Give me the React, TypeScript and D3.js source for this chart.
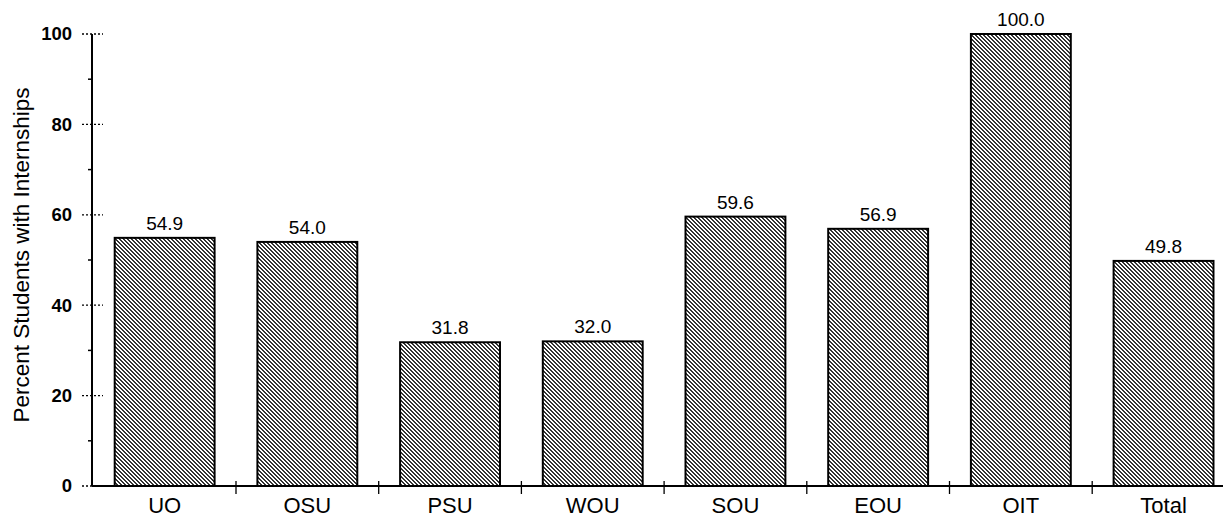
import React from "react";
import * as d3 from "d3";

const categories = ["UO", "OSU", "PSU", "WOU", "SOU", "EOU", "OIT", "Total"];
const values = [54.9, 54.0, 31.8, 32.0, 59.6, 56.9, 100.0, 49.8];
const majorTicks = [0, 20, 40, 60, 80, 100];
const minorTicks = [10, 30, 50, 70, 90];
const yTitle = "Percent Students with Internships";

export default function App() {
  const W = 1223, H = 518;
  const axisX = 92;
  const y = d3.scaleLinear().domain([0, 100]).range([486, 34]);
  const x = d3.scaleBand<string>().domain(categories).range([93.3, 93.3 + 8 * 142.7]).paddingInner(0.3).paddingOuter(0.15);
  const step = x.step();
  const start = 93.3;
  return (
    <svg width={W} height={H} style={{ position: "absolute", left: 0, top: 0 }} fontFamily="Arial, 'Liberation Sans', sans-serif">
      <defs>
        <pattern id="hatch" width={4} height={4} patternUnits="userSpaceOnUse">
          <rect x={0} y={0} width={4} height={4} fill="#ffffff" />
          <rect x={0} y={0} width={2} height={1} fill="#333" />
          <rect x={1} y={1} width={2} height={1} fill="#333" />
          <rect x={2} y={2} width={2} height={1} fill="#333" />
          <rect x={3} y={3} width={1} height={1} fill="#333" />
          <rect x={0} y={3} width={1} height={1} fill="#333" />
        </pattern>
      </defs>
      <rect x={0} y={0} width={W} height={H} fill="#fff" />
      {categories.map((c, i) => {
        const bx = x(c)!;
        const bw = x.bandwidth();
        const top = y(values[i]);
        return (
          <g key={c}>
            <rect x={bx} y={top} width={bw} height={y(0) - top} fill="url(#hatch)" stroke="#000" strokeWidth={2} />
            <text x={bx + bw / 2} y={top - 8} textAnchor="middle" fontSize={19} fill="#000">
              {values[i].toFixed(1)}
            </text>
            <text x={bx + bw / 2} y={513} textAnchor="middle" fontSize={22} fill="#000">
              {c}
            </text>
          </g>
        );
      })}
      {/* x axis */}
      <line x1={axisX} x2={W} y1={y(0)} y2={y(0)} stroke="#000" strokeWidth={2} />
      {d3.range(1, 8).map((k) => (
        <line key={k} x1={start + k * step} x2={start + k * step} y1={y(0) - 5} y2={y(0) + 8} stroke="#000" strokeWidth={1.3} />
      ))}
      {/* y axis */}
      <line x1={axisX} x2={axisX} y1={y(100)} y2={y(0)} stroke="#000" strokeWidth={2} />
      {majorTicks.map((t) => (
        <g key={t}>
          <line x1={axisX - 10} x2={axisX + 11} y1={y(t)} y2={y(t)} stroke="#000" strokeWidth={1.3} strokeDasharray="2,2" />
          <text x={axisX - 20} y={y(t)} dy="0.35em" textAnchor="end" fontSize={18.5} fontWeight="bold" fill="#000">
            {t}
          </text>
        </g>
      ))}
      {minorTicks.map((t) => (
        <line key={t} x1={axisX - 4} x2={axisX} y1={y(t)} y2={y(t)} stroke="#000" strokeWidth={1.5} />
      ))}
      <text transform={`translate(${29},${255}) rotate(-90)`} textAnchor="middle" fontSize={22.5} fill="#000">
        {yTitle}
      </text>
    </svg>
  );
}
